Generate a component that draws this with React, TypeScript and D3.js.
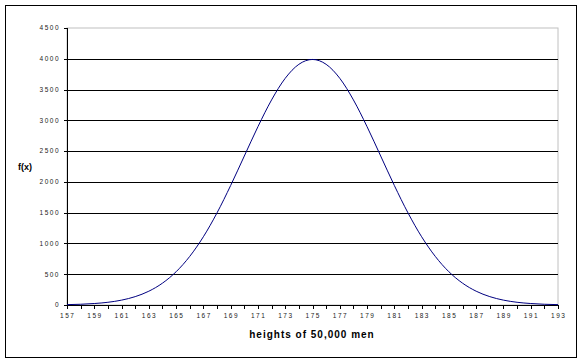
import React from 'react';
import * as d3 from 'd3';

// heights (cm) and f(x)
const heights = [157, 158, 159, 160, 161, 162, 163, 164, 165, 166, 167, 168, 169, 170, 171, 172, 173, 174, 175,
  176, 177, 178, 179, 180, 181, 182, 183, 184, 185, 186, 187, 188, 189, 190, 191, 192, 193];
const counts = [6, 12, 24, 44, 79, 136, 224, 355, 540, 790, 1109, 1497, 1942, 2420, 2897, 3332, 3683, 3910, 3989,
  3910, 3683, 3332, 2897, 2420, 1942, 1497, 1109, 790, 540, 355, 224, 136, 79, 44, 24, 12, 6];
const yTicks = [0, 500, 1000, 1500, 2000, 2500, 3000, 3500, 4000, 4500];
const xLabels = [157, 159, 161, 163, 165, 167, 169, 171, 173, 175, 177, 179, 181, 183, 185, 187, 189, 191, 193];

const W = 583;
const H = 363;
const left = 67, right = 558, top = 28, bottom = 305;

const App: React.FC = () => {
  const x = d3.scaleLinear().domain([157, 193]).range([left, right]);
  const y = d3.scaleLinear().domain([0, 4500]).range([bottom, top]);

  const line = d3.line<number>()
    .x((_, i) => x(heights[i]))
    .y(d => y(d))
    .curve(d3.curveMonotoneX);

  const font = '"Liberation Sans", Arial, sans-serif';

  return (
    <svg width={W} height={H} style={{ position: 'absolute', left: 0, top: 0 }}>
      <rect x={0} y={0} width={W} height={H} fill="#fff" />
      <rect x={5.5} y={5.5} width={571} height={352} fill="#fff" stroke="#000" strokeWidth={1} />

      {/* plot area border */}
      <rect x={left} y={top} width={right - left} height={bottom - top} fill="#fff" stroke="#c0c0c0" strokeWidth={1} />

      {/* gridlines */}
      {yTicks.filter(t => t > 0 && t < 4500).map(t => (
        <line key={t} x1={left} x2={right} y1={Math.round(y(t)) + 0.5} y2={Math.round(y(t)) + 0.5} stroke="#000" strokeWidth={1} />
      ))}

      {/* y axis */}
      <line x1={left + 0.5} x2={left + 0.5} y1={top} y2={bottom} stroke="#000" />
      {yTicks.map(t => (
        <g key={t}>
          <line x1={left - 3} x2={left} y1={Math.round(y(t)) + 0.5} y2={Math.round(y(t)) + 0.5} stroke="#000" />
          <text x={60} y={y(t) + 2.3} textAnchor="end" fontFamily={font} fontSize={6.5} letterSpacing={1.5} fill="#222">{t}</text>
        </g>
      ))}

      {/* x axis */}
      <line x1={left} x2={right} y1={bottom + 0.5} y2={bottom + 0.5} stroke="#000" />
      {heights.map(h => (
        <line key={h} x1={Math.round(x(h)) + 0.5} x2={Math.round(x(h)) + 0.5} y1={bottom} y2={bottom + 4} stroke="#000" />
      ))}
      {xLabels.map(h => (
        <text key={h} x={x(h) + 0.7} y={318} textAnchor="middle" fontFamily={font} fontSize={6.5} letterSpacing={1.5} fill="#222">{h}</text>
      ))}

      <path d={line(counts) || ''} fill="none" stroke="#000080" strokeWidth={1} />

      <text x={25} y={170} textAnchor="middle" fontFamily={font} fontSize={9} fontWeight="bold">f(x)</text>
      <text x={312} y={338} textAnchor="middle" fontFamily={font} fontSize={10} fontWeight="bold" letterSpacing={1}>heights of 50,000 men</text>
    </svg>
  );
};

export default App;
